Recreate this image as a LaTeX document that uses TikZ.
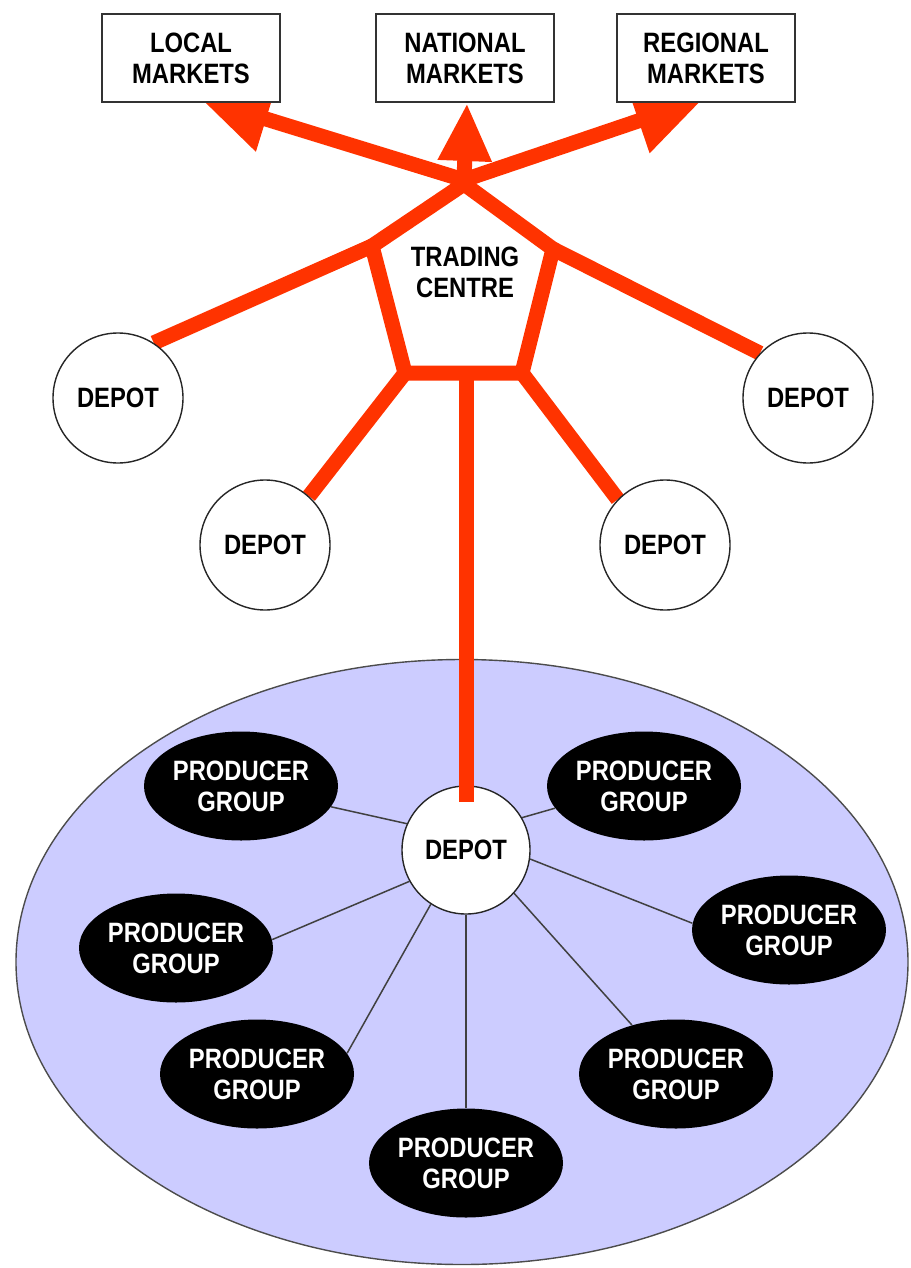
\documentclass[tikz,border=0pt]{standalone}
\usepackage{fontspec}
\newfontfamily\lblfont{Liberation Sans}[FakeStretch=0.85]
\usetikzlibrary{arrows.meta,shapes.geometric}
\definecolor{redline}{HTML}{FF3300}
\definecolor{lav}{HTML}{CCCCFF}
\pgfdeclarelayer{bgzero}
\pgfdeclarelayer{background}
\pgfdeclarelayer{fg}
\pgfsetlayers{bgzero,background,main,fg}
\begin{document}
\begin{tikzpicture}[x=0.5pt,y=-0.5pt,
  lbl/.style={font=\lblfont\bfseries\fontsize{14}{15.5}\selectfont, align=center},
  mkt/.style={lbl, draw=black!80, line width=1pt, fill=white, minimum width=89pt, minimum height=44pt, inner sep=0pt},
  depot/.style={lbl, circle, draw=black!85, line width=0.7pt, fill=white, minimum size=65pt, inner sep=0pt},
  pg/.style={lbl, ellipse, fill=black, text=white, minimum width=97pt, minimum height=54.5pt, inner sep=0pt},
  rl/.style={draw=redline, line width=7.5pt},
  sidearr/.style={rl, -{Triangle[length=34pt,width=32pt]}},
  toparr/.style={rl, -{Triangle[length=29pt,width=25pt]}},
  thinln/.style={draw=black!75, line width=0.75pt}]
\useasboundingbox (0,0) rectangle (910,1268);
\begin{pgfonlayer}{bgzero}
\fill[white] (0,0) rectangle (910,1268);
\node[ellipse, draw=black!70, line width=0.7pt, fill=lav, minimum width=446pt, minimum height=302.5pt, inner sep=0pt] (area) at (462,962) {};
\end{pgfonlayer}

% nodes
\node[depot] (d1) at (118,398) {DEPOT};
\node[depot] (d2) at (808,398) {DEPOT};
\node[depot] (d3) at (265,545) {DEPOT};
\node[depot] (d4) at (665,545) {DEPOT};
\node[depot, minimum size=64pt] (d5) at (466,850) {DEPOT};

\node[pg] (pg1) at (241,786) {PRODUCER\\GROUP};
\node[pg] (pg2) at (644,786) {PRODUCER\\GROUP};
\node[pg] (pg3) at (176,948) {PRODUCER\\GROUP};
\node[pg] (pg4) at (789,930) {PRODUCER\\GROUP};
\node[pg] (pg5) at (257,1074) {PRODUCER\\GROUP};
\node[pg] (pg6) at (676,1074) {PRODUCER\\GROUP};
\node[pg] (pg7) at (466,1163) {PRODUCER\\GROUP};

\node[lbl] (tc) at (465,272) {TRADING\\CENTRE};

\node[mkt] (local) at (191,58) {LOCAL\\MARKETS};
\node[mkt] (national) at (465,58) {NATIONAL\\MARKETS};
\node[mkt] (regional) at (706,58) {REGIONAL\\MARKETS};

\coordinate (C) at (464,180);
\coordinate (T) at (464,184);
\coordinate (L) at (372,246);
\coordinate (R) at (553,249);
\coordinate (BR) at (522,373);
\coordinate (BL) at (405,373);
\coordinate (BM) at (466,373);
\coordinate (tipL) at (201,99);
\coordinate (tipN) at (467,103);
\coordinate (tipR) at (703,99);
\coordinate (dend) at (466,802);

\begin{pgfonlayer}{background}
\draw[thinln] (d5.156) -- (pg1.-13);
\draw[thinln] (d5.30) -- (pg2.194);
\draw[thinln] (d5.209) -- (pg3.5);
\draw[thinln] (d5.352) -- (pg4.176);
\draw[thinln] (d5.237) -- (pg5.13);
\draw[thinln] (d5.318) -- (pg6.132);
\draw[thinln] (d5.270) -- (pg7.90);

\draw[rl, line join=miter] (T) -- (L) -- (BL) -- (BR) -- (R) -- cycle;
\draw[rl] (L) -- (d1.57);
\draw[rl] (R) -- (d2.137);
\draw[rl] (BL) -- (d3.48);
\draw[rl] (BR) -- (d4.136);
\draw[sidearr] (C) -- (tipL);
\draw[toparr] (C) -- (tipN);
\draw[sidearr] (C) -- (tipR);
\end{pgfonlayer}

\begin{pgfonlayer}{fg}
\draw[rl] (BM) -- (dend);
\end{pgfonlayer}
\end{tikzpicture}
\end{document}
